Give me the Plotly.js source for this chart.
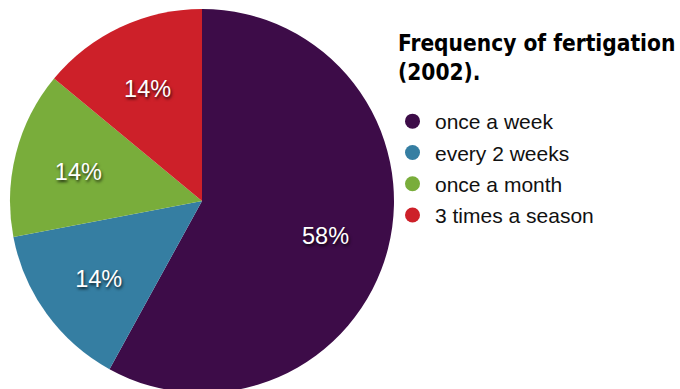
<!DOCTYPE html>
<html><head><meta charset="utf-8">
<script src="https://cdn.plot.ly/plotly-3.0.1.min.js"></script>
<style>html,body{margin:0;padding:0;overflow:hidden;background:#fff}</style>
</head><body>
<div id="chart" style="width:680px;height:400px"></div>
<script>
const categories = ["once a week", "every 2 weeks", "once a month", "3 times a season"];
const shares = [58, 14, 14, 14];
const colors = ["#3d0c48", "#357ea2", "#79ad3b", "#cd2029"];
const titleText = "Frequency of fertigation<br>(2002).";

const W = 680, H = 400;
const dom = {x: [10 / W, 394 / W], y: [(H - 393) / H, (H - 9) / H]};
const labelDom = {x: [21 / W, 383 / W], y: [(H - 385) / H, (H - 23) / H]};
const pie = {
  type: "pie",
  labels: categories,
  values: shares,
  sort: false,
  direction: "clockwise",
  rotation: 0,
  marker: {colors: colors, line: {width: 0}},
  textinfo: "none",
  hoverinfo: "label+percent",
  showlegend: false,
  domain: dom
};
// transparent ring on top only to carry the percentage labels
const labelRing = {
  type: "pie",
  labels: categories,
  values: shares,
  sort: false,
  direction: "clockwise",
  rotation: 0,
  hole: 0.41,
  marker: {colors: categories.map(() => "rgba(0,0,0,0)"), line: {width: 0}},
  texttemplate: "%{percent:.0%}",
  textposition: "inside",
  insidetextorientation: "horizontal",
  textfont: {family: "Liberation Sans, Arial, sans-serif", size: 23.5, color: "#ffffff",
             shadow: "1px 2px 3px rgba(0,0,0,0.75)"},
  hoverinfo: "skip",
  showlegend: false,
  domain: labelDom
};
const legendTraces = categories.map((c, i) => ({
  type: "scatter", mode: "markers", x: [null], y: [null], name: c, legendgroup: "g" + i,
  marker: {color: colors[i], size: 15, symbol: "circle"}, hoverinfo: "skip"
}));

const layout = {
  width: W, height: H,
  margin: {l: 0, r: 0, t: 0, b: 0},
  paper_bgcolor: "#ffffff", plot_bgcolor: "#ffffff",
  xaxis: {visible: false}, yaxis: {visible: false},
  title: {text: titleText, x: 398 / W, xanchor: "left", xref: "paper",
          y: 1 - 51 / H, yanchor: "top", yref: "container",
          font: {family: "DejaVu Sans Condensed, DejaVu Sans, sans-serif", size: 22.5, color: "#000", weight: "bold"}},
  legend: {x: 390 / W, xanchor: "left", y: 1 - 101 / H, yanchor: "top",
           font: {family: "Liberation Sans, Arial, sans-serif", size: 21, color: "#111"},
           bgcolor: "rgba(0,0,0,0)", itemclick: false, tracegroupgap: 1, itemwidth: 35},
  showlegend: true
};
Plotly.newPlot("chart", [pie, labelRing].concat(legendTraces), layout, {displayModeBar: false, staticPlot: true});
</script>
</body></html>
